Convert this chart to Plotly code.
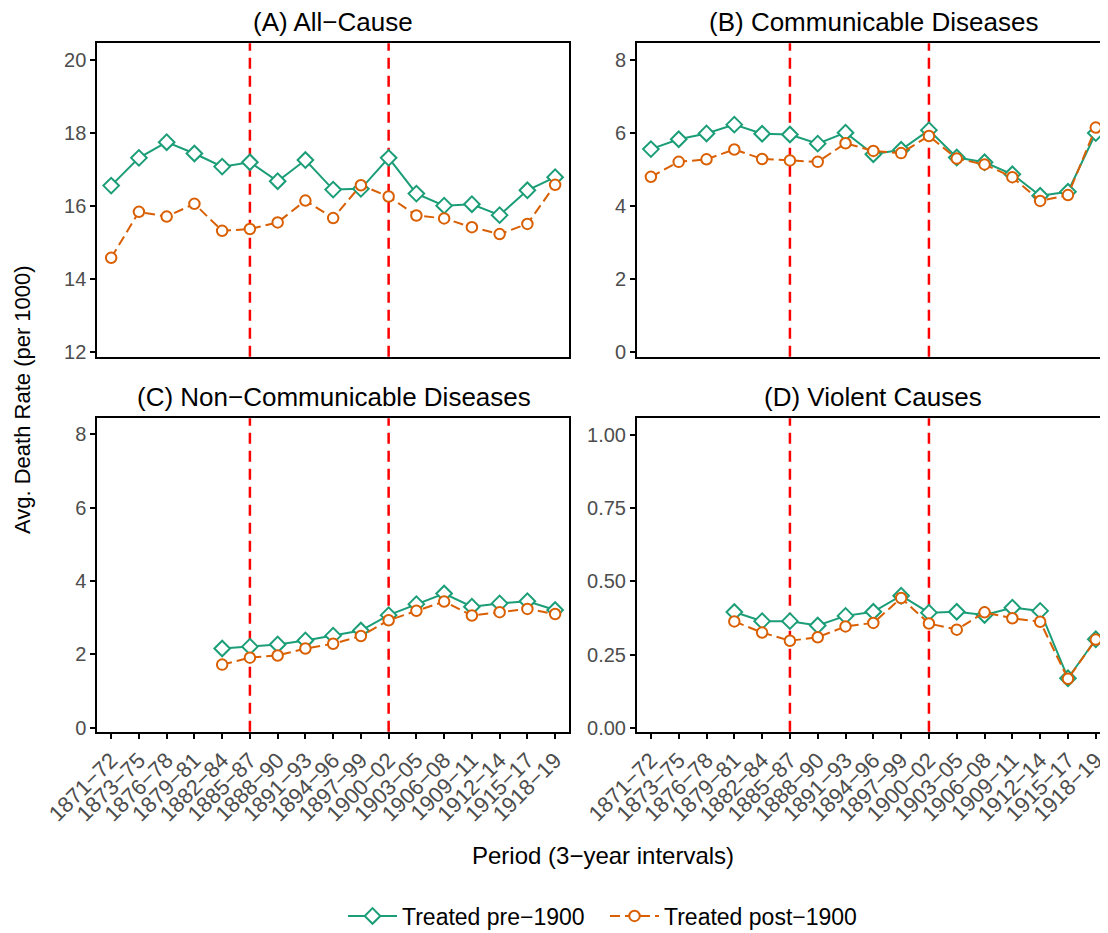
import plotly.graph_objects as go

# ---------------- data ----------------
periods = ["1871−72", "1873−75", "1876−78", "1879−81", "1882−84", "1885−87",
           "1888−90", "1891−93", "1894−96", "1897−99", "1900−02", "1903−05",
           "1906−08", "1909−11", "1912−14", "1915−17", "1918−19"]

series_names = ["Treated pre−1900", "Treated post−1900"]

all_pre = [16.56, 17.32, 17.75, 17.44, 17.08, 17.20, 16.68, 17.26, 16.45, 16.47,
           17.32, 16.34, 16.01, 16.05, 15.75, 16.43, 16.79]
all_post = [14.58, 15.84, 15.71, 16.06, 15.32, 15.37, 15.55, 16.15, 15.67, 16.57,
            16.26, 15.74, 15.66, 15.42, 15.23, 15.51, 16.58]

com_pre = [5.56, 5.83, 5.99, 6.23, 5.98, 5.96, 5.71, 6.01, 5.42, 5.54,
           6.08, 5.33, 5.20, 4.87, 4.28, 4.39, 6.00]
com_post = [4.80, 5.21, 5.28, 5.55, 5.29, 5.25, 5.21, 5.72, 5.51, 5.45,
            5.92, 5.30, 5.14, 4.79, 4.14, 4.30, 6.15]

ncd_pre = [None, None, None, None, 2.16, 2.21, 2.27, 2.38, 2.51, 2.65,
           3.07, 3.37, 3.66, 3.30, 3.39, 3.45, 3.21]
ncd_post = [None, None, None, None, 1.72, 1.91, 1.97, 2.16, 2.29, 2.50,
            2.93, 3.19, 3.44, 3.06, 3.15, 3.24, 3.10]

vio_pre = [None, None, None, 0.395, 0.364, 0.364, 0.349, 0.382, 0.396, 0.451,
           0.393, 0.396, 0.385, 0.410, 0.399, 0.169, 0.302]
vio_post = [None, None, None, 0.363, 0.325, 0.297, 0.309, 0.346, 0.358, 0.443,
            0.356, 0.335, 0.394, 0.374, 0.362, 0.167, 0.301]

panel_titles = ["(A) All−Cause", "(B) Communicable Diseases",
                "(C) Non−Communicable Diseases", "(D) Violent Causes"]
treatment_periods = ["1885−87", "1900−02"]

y_ticks = {
    1: [12, 14, 16, 18, 20],
    2: [0, 2, 4, 6, 8],
    3: [0, 2, 4, 6, 8],
    4: [0.0, 0.25, 0.5, 0.75, 1.0],
}

# ---------------- styling ----------------
OFF = 8  # page body margin offset
W, H = 1108 - OFF, 933 - OFF
FONT = "Liberation Sans, Arial, Helvetica, sans-serif"
GREEN = "#1B9E77"
ORANGE = "#D95F02"

def px_x(p):
    return (p - OFF) / W

def px_y(p):
    return 1 - (p - OFF) / H

left_dom = [px_x(97.3), px_x(569.0)]
right_dom = [px_x(637.0), 1.0]
top_dom = [px_y(356.7), px_y(43.3)]
bot_dom = [px_y(731.7), px_y(418.3)]

panels = [
    (1, all_pre, all_post, left_dom, top_dom, [11.87, 20.46], [-0.5, 16.5], False),
    (2, com_pre, com_post, right_dom, top_dom, [-0.13, 8.46], [-0.5, 16.44], False),
    (3, ncd_pre, ncd_post, left_dom, bot_dom, [-0.11, 8.44], [-0.5, 16.5], True),
    (4, vio_pre, vio_post, right_dom, bot_dom, [-0.0137, 1.057], [-0.5, 16.44], True),
]

fig = go.Figure()
layout = {}
shapes = []

for idx, pre, post, xd, yd, yr, xr, show_x in panels:
    xa = "x" if idx == 1 else f"x{idx}"
    ya = "y" if idx == 1 else f"y{idx}"
    fig.add_trace(go.Scatter(
        x=periods, y=pre, mode="lines+markers", name=series_names[0],
        legendgroup="pre", showlegend=(idx == 1), xaxis=xa, yaxis=ya,
        line=dict(color=GREEN, width=2),
        marker=dict(symbol="diamond", size=12, color="white",
                    line=dict(color=GREEN, width=2)),
        connectgaps=False,
    ))
    fig.add_trace(go.Scatter(
        x=periods, y=post, mode="lines+markers", name=series_names[1],
        legendgroup="post", showlegend=(idx == 1), xaxis=xa, yaxis=ya,
        line=dict(color=ORANGE, width=2, dash="10px,5px"),
        marker=dict(symbol="circle", size=10.5, color="white",
                    line=dict(color=ORANGE, width=2)),
        connectgaps=False,
    ))
    xkey = "xaxis" if idx == 1 else f"xaxis{idx}"
    ykey = "yaxis" if idx == 1 else f"yaxis{idx}"
    layout[xkey] = dict(
        domain=xd, anchor=ya, type="category", range=xr, automargin=False,
        categoryorder="array", categoryarray=periods,
        tickmode="linear", tick0=0, dtick=1,
        showline=True, linecolor="black", linewidth=2, mirror=True,
        showgrid=False, zeroline=False,
        ticks="outside" if show_x else "", ticklen=5, tickwidth=2, tickcolor="black",
        showticklabels=show_x, tickangle=-45,
        tickfont=dict(family=FONT, size=22, color="#4D4D4D"),
    )
    layout[ykey] = dict(
        domain=yd, anchor=xa, range=yr, automargin=False,
        tickmode="array", tickvals=y_ticks[idx],
        tickformat=".2f" if idx == 4 else "d",
        showline=True, linecolor="black", linewidth=2, mirror=True,
        showgrid=False, zeroline=False,
        ticks="outside", ticklen=5, tickwidth=2, tickcolor="black",
        tickfont=dict(family=FONT, size=20, color="#4D4D4D"),
    )
    for tp in treatment_periods:
        shapes.append(dict(
            type="line", xref=xa, yref=f"{ya} domain",
            x0=tp, x1=tp, y0=0, y1=1,
            line=dict(color="#FF0000", width=2.5, dash="11px,7px"),
            layer="below",
        ))

annotations = []
title_pos = [(333, 22.5), (873, 22.5), (334, 397), (873, 397)]
for t, (tx, ty) in zip(panel_titles, title_pos):
    annotations.append(dict(
        text=t, x=px_x(tx), y=px_y(ty), xref="paper", yref="paper",
        xanchor="center", yanchor="middle", showarrow=False,
        font=dict(family=FONT, size=26, color="black"),
    ))
annotations.append(dict(
    text="Period (3−year intervals)", x=px_x(603), y=px_y(855),
    xref="paper", yref="paper", xanchor="center", yanchor="middle",
    showarrow=False, font=dict(family=FONT, size=24, color="black"),
))
annotations.append(dict(
    text="Avg. Death Rate (per 1000)", x=px_x(22), y=px_y(400),
    xref="paper", yref="paper", xanchor="center", yanchor="middle",
    textangle=-90, showarrow=False, font=dict(family=FONT, size=22, color="black"),
))

fig.update_layout(
    width=W, height=H,
    margin=dict(l=0, r=0, t=0, b=0, autoexpand=False),
    paper_bgcolor="white", plot_bgcolor="white",
    font=dict(family=FONT, color="black"),
    showlegend=True,
    legend=dict(
        orientation="h", x=px_x(343), y=px_y(916), xanchor="left", yanchor="middle",
        font=dict(family=FONT, size=23, color="black"),
        bgcolor="rgba(0,0,0,0)", itemwidth=49,
        entrywidth=198, entrywidthmode="pixels",
    ),
    shapes=shapes,
    annotations=annotations,
    **layout,
)

fig.write_html("out.html")
